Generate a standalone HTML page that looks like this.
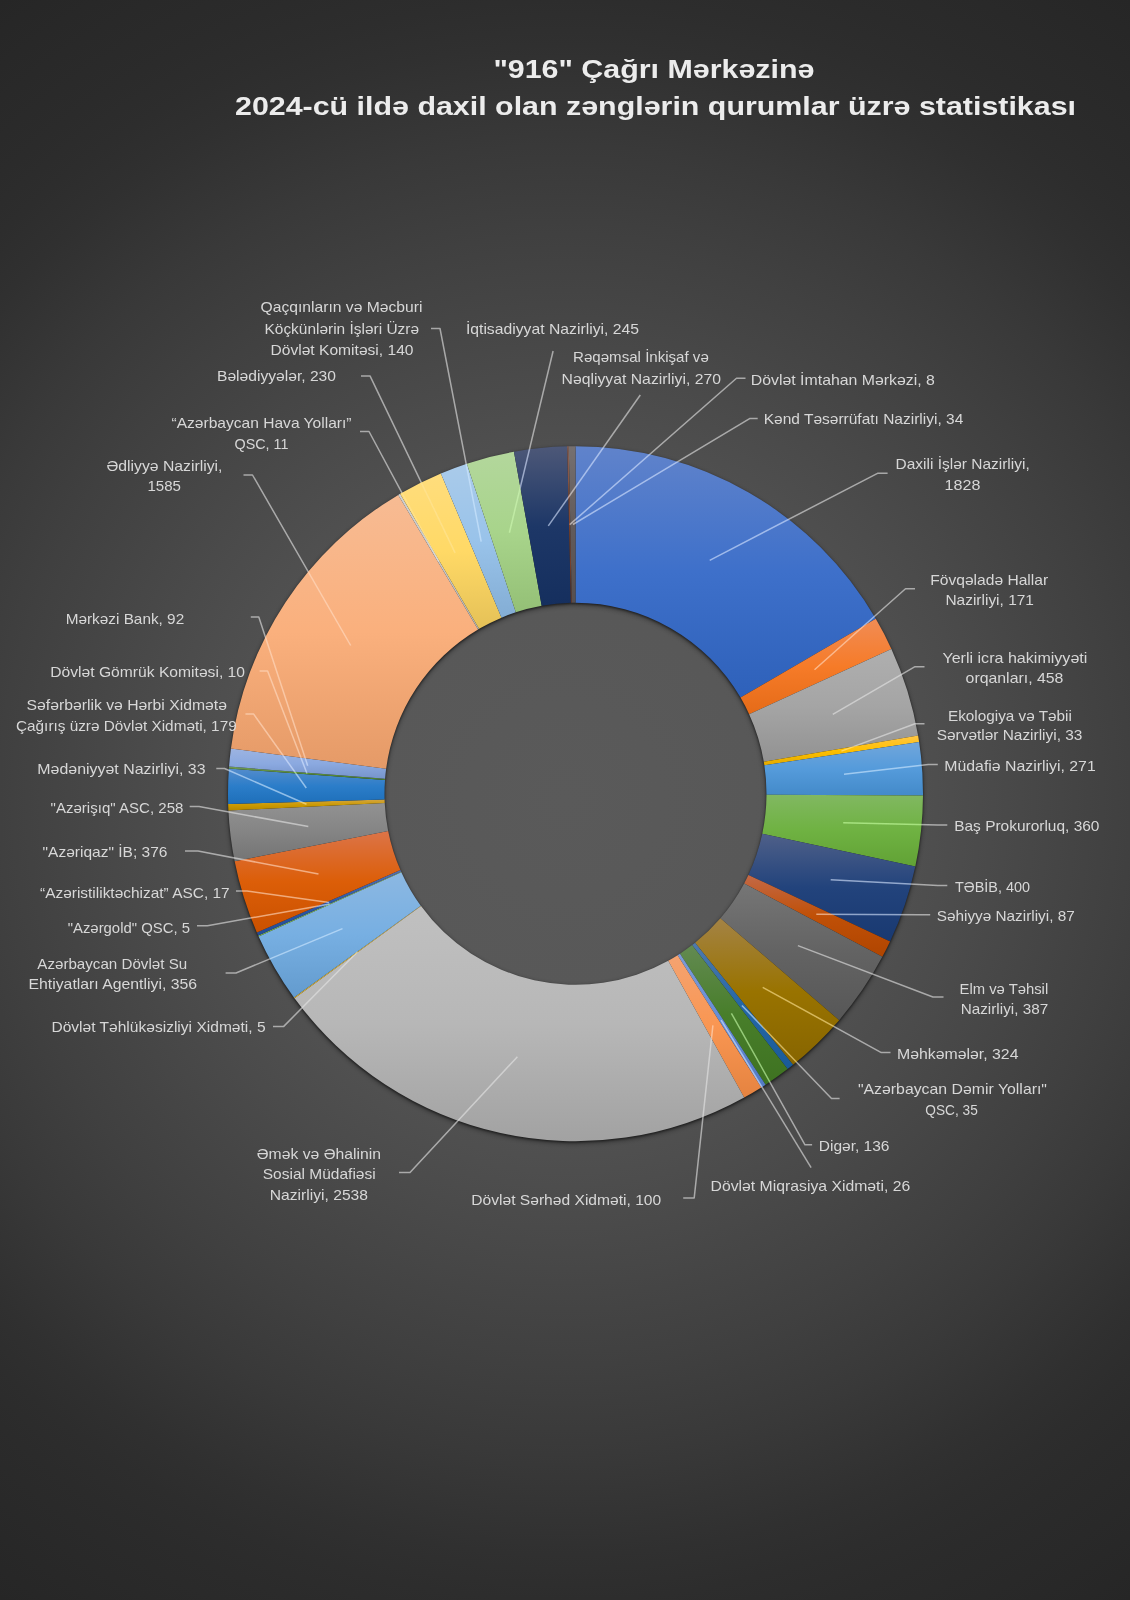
<!DOCTYPE html>
<html><head><meta charset="utf-8"><title>916</title>
<style>
html,body{margin:0;padding:0;background:#262626;}
body{width:1130px;height:1600px;overflow:hidden;font-family:"Liberation Sans",sans-serif;}
svg{display:block}
text{font-family:"Liberation Sans",sans-serif;}
</style></head><body>
<svg width="1130" height="1600" viewBox="0 0 1130 1600">
<defs>
<radialGradient id="bg" gradientUnits="userSpaceOnUse" cx="565" cy="800" r="980">
<stop offset="0.000" stop-color="#5a5a5a"/><stop offset="0.194" stop-color="#585858"/><stop offset="0.306" stop-color="#535353"/><stop offset="0.423" stop-color="#4b4b4b"/><stop offset="0.520" stop-color="#444444"/><stop offset="0.577" stop-color="#404040"/><stop offset="0.668" stop-color="#393939"/><stop offset="0.770" stop-color="#303030"/><stop offset="0.816" stop-color="#2d2d2d"/><stop offset="0.860" stop-color="#2b2b2b"/><stop offset="0.918" stop-color="#292929"/><stop offset="1.000" stop-color="#262626"/></radialGradient>
<filter id="sh" x="-5%" y="-5%" width="110%" height="110%" color-interpolation-filters="sRGB"><feGaussianBlur in="SourceAlpha" stdDeviation="2.6" result="b1"/><feOffset in="b1" dy="2" result="o1"/><feComponentTransfer in="o1" result="s1"><feFuncA type="linear" slope="0.45"/></feComponentTransfer><feGaussianBlur in="SourceAlpha" stdDeviation="0.8" result="b2"/><feOffset in="b2" dy="0.7" result="o2"/><feComponentTransfer in="o2" result="s2"><feFuncA type="linear" slope="0.5"/></feComponentTransfer><feMerge><feMergeNode in="s1"/><feMergeNode in="s2"/><feMergeNode in="SourceGraphic"/></feMerge></filter>
<linearGradient id="g0" x1="0" y1="0" x2="0" y2="1"><stop offset="0" stop-color="#6083cb"/><stop offset="0.5" stop-color="#3e70ca"/><stop offset="1" stop-color="#2e61ba"/></linearGradient>
<linearGradient id="g1" x1="0" y1="0" x2="0" y2="1"><stop offset="0" stop-color="#f18c55"/><stop offset="0.5" stop-color="#f67b28"/><stop offset="1" stop-color="#e56b18"/></linearGradient>
<linearGradient id="g2" x1="0" y1="0" x2="0" y2="1"><stop offset="0" stop-color="#afafaf"/><stop offset="0.5" stop-color="#a5a5a5"/><stop offset="1" stop-color="#929292"/></linearGradient>
<linearGradient id="g3" x1="0" y1="0" x2="0" y2="1"><stop offset="0" stop-color="#ffc646"/><stop offset="0.5" stop-color="#ffc000"/><stop offset="1" stop-color="#e2aa00"/></linearGradient>
<linearGradient id="g4" x1="0" y1="0" x2="0" y2="1"><stop offset="0" stop-color="#71a6db"/><stop offset="0.5" stop-color="#559bdb"/><stop offset="1" stop-color="#438ac9"/></linearGradient>
<linearGradient id="g5" x1="0" y1="0" x2="0" y2="1"><stop offset="0" stop-color="#81b861"/><stop offset="0.5" stop-color="#6fb242"/><stop offset="1" stop-color="#61a235"/></linearGradient>
<linearGradient id="g6" x1="0" y1="0" x2="0" y2="1"><stop offset="0" stop-color="#4f6089"/><stop offset="0.5" stop-color="#22437c"/><stop offset="1" stop-color="#193971"/></linearGradient>
<linearGradient id="g7" x1="0" y1="0" x2="0" y2="1"><stop offset="0" stop-color="#c36947"/><stop offset="0.5" stop-color="#c05007"/><stop offset="1" stop-color="#b04500"/></linearGradient>
<linearGradient id="g8" x1="0" y1="0" x2="0" y2="1"><stop offset="0" stop-color="#767676"/><stop offset="0.5" stop-color="#636363"/><stop offset="1" stop-color="#575757"/></linearGradient>
<linearGradient id="g9" x1="0" y1="0" x2="0" y2="1"><stop offset="0" stop-color="#a48345"/><stop offset="0.5" stop-color="#997300"/><stop offset="1" stop-color="#876500"/></linearGradient>
<linearGradient id="g10" x1="0" y1="0" x2="0" y2="1"><stop offset="0" stop-color="#507aac"/><stop offset="0.5" stop-color="#2467a6"/><stop offset="1" stop-color="#1a5b98"/></linearGradient>
<linearGradient id="g11" x1="0" y1="0" x2="0" y2="1"><stop offset="0" stop-color="#638a52"/><stop offset="0.5" stop-color="#487e2a"/><stop offset="1" stop-color="#3e7221"/></linearGradient>
<linearGradient id="g12" x1="0" y1="0" x2="0" y2="1"><stop offset="0" stop-color="#7c9bd6"/><stop offset="0.5" stop-color="#648dd5"/><stop offset="1" stop-color="#527ac3"/></linearGradient>
<linearGradient id="g13" x1="0" y1="0" x2="0" y2="1"><stop offset="0" stop-color="#f4a371"/><stop offset="0.5" stop-color="#f99652"/><stop offset="1" stop-color="#e58340"/></linearGradient>
<linearGradient id="g14" x1="0" y1="0" x2="0" y2="1"><stop offset="0" stop-color="#c0c0c0"/><stop offset="0.5" stop-color="#b7b7b7"/><stop offset="1" stop-color="#a2a2a2"/></linearGradient>
<linearGradient id="g15" x1="0" y1="0" x2="0" y2="1"><stop offset="0" stop-color="#ffd258"/><stop offset="0.5" stop-color="#ffcd33"/><stop offset="1" stop-color="#e5b72a"/></linearGradient>
<linearGradient id="g16" x1="0" y1="0" x2="0" y2="1"><stop offset="0" stop-color="#8cb8e2"/><stop offset="0.5" stop-color="#77afe2"/><stop offset="1" stop-color="#639bce"/></linearGradient>
<linearGradient id="g17" x1="0" y1="0" x2="0" y2="1"><stop offset="0" stop-color="#99c87b"/><stop offset="0.5" stop-color="#8bc564"/><stop offset="1" stop-color="#7ab452"/></linearGradient>
<linearGradient id="g18" x1="0" y1="0" x2="0" y2="1"><stop offset="0" stop-color="#556fad"/><stop offset="0.5" stop-color="#2d58a6"/><stop offset="1" stop-color="#224c98"/></linearGradient>
<linearGradient id="g19" x1="0" y1="0" x2="0" y2="1"><stop offset="0" stop-color="#dc7448"/><stop offset="0.5" stop-color="#dc5e08"/><stop offset="1" stop-color="#ca5100"/></linearGradient>
<linearGradient id="g20" x1="0" y1="0" x2="0" y2="1"><stop offset="0" stop-color="#929292"/><stop offset="0.5" stop-color="#848484"/><stop offset="1" stop-color="#747474"/></linearGradient>
<linearGradient id="g21" x1="0" y1="0" x2="0" y2="1"><stop offset="0" stop-color="#d3a545"/><stop offset="0.5" stop-color="#cc9a00"/><stop offset="1" stop-color="#b58800"/></linearGradient>
<linearGradient id="g22" x1="0" y1="0" x2="0" y2="1"><stop offset="0" stop-color="#548ccc"/><stop offset="0.5" stop-color="#2b7dc9"/><stop offset="1" stop-color="#1e6fb9"/></linearGradient>
<linearGradient id="g23" x1="0" y1="0" x2="0" y2="1"><stop offset="0" stop-color="#6f9858"/><stop offset="0.5" stop-color="#598e35"/><stop offset="1" stop-color="#4e812a"/></linearGradient>
<linearGradient id="g24" x1="0" y1="0" x2="0" y2="1"><stop offset="0" stop-color="#9db4e1"/><stop offset="0.5" stop-color="#8ba9e0"/><stop offset="1" stop-color="#7694cb"/></linearGradient>
<linearGradient id="g25" x1="0" y1="0" x2="0" y2="1"><stop offset="0" stop-color="#f7bb93"/><stop offset="0.5" stop-color="#fab07d"/><stop offset="1" stop-color="#e59a67"/></linearGradient>
<linearGradient id="g26" x1="0" y1="0" x2="0" y2="1"><stop offset="0" stop-color="#d0d0d0"/><stop offset="0.5" stop-color="#c9c9c9"/><stop offset="1" stop-color="#b2b2b2"/></linearGradient>
<linearGradient id="g27" x1="0" y1="0" x2="0" y2="1"><stop offset="0" stop-color="#ffdd7d"/><stop offset="0.5" stop-color="#ffd966"/><stop offset="1" stop-color="#e5c157"/></linearGradient>
<linearGradient id="g28" x1="0" y1="0" x2="0" y2="1"><stop offset="0" stop-color="#aacbea"/><stop offset="0.5" stop-color="#99c3ea"/><stop offset="1" stop-color="#83add4"/></linearGradient>
<linearGradient id="g29" x1="0" y1="0" x2="0" y2="1"><stop offset="0" stop-color="#b3d79c"/><stop offset="0.5" stop-color="#a8d48b"/><stop offset="1" stop-color="#94c076"/></linearGradient>
<linearGradient id="g30" x1="0" y1="0" x2="0" y2="1"><stop offset="0" stop-color="#4d5878"/><stop offset="0.5" stop-color="#1d3767"/><stop offset="1" stop-color="#152f5e"/></linearGradient>
<linearGradient id="g31" x1="0" y1="0" x2="0" y2="1"><stop offset="0" stop-color="#8a6155"/><stop offset="0.5" stop-color="#7e442e"/><stop offset="1" stop-color="#723a25"/></linearGradient>
<linearGradient id="g32" x1="0" y1="0" x2="0" y2="1"><stop offset="0" stop-color="#767070"/><stop offset="0.5" stop-color="#625b5b"/><stop offset="1" stop-color="#574f4f"/></linearGradient>
</defs>
<rect width="1130" height="1600" fill="url(#bg)"/>
<g filter="url(#sh)">
<path d="M575.50 446.25A347.5 347.5 0 0 1 875.78 618.86L740.55 697.62A191 191 0 0 0 575.50 602.75Z" fill="url(#g0)"/>
<path d="M875.78 618.86A347.5 347.5 0 0 1 891.39 648.95L749.13 714.16A191 191 0 0 0 740.55 697.62Z" fill="url(#g1)"/>
<path d="M891.39 648.95A347.5 347.5 0 0 1 918.09 735.51L763.80 761.74A191 191 0 0 0 749.13 714.16Z" fill="url(#g2)"/>
<path d="M918.09 735.51A347.5 347.5 0 0 1 919.12 741.98L764.37 765.29A191 191 0 0 0 763.80 761.74Z" fill="url(#g3)"/>
<path d="M919.12 741.98A347.5 347.5 0 0 1 923.00 795.54L766.50 794.73A191 191 0 0 0 764.37 765.29Z" fill="url(#g4)"/>
<path d="M923.00 795.54A347.5 347.5 0 0 1 915.32 866.40L762.28 833.68A191 191 0 0 0 766.50 794.73Z" fill="url(#g5)"/>
<path d="M915.32 866.40A347.5 347.5 0 0 1 890.06 941.43L748.39 874.92A191 191 0 0 0 762.28 833.68Z" fill="url(#g6)"/>
<path d="M890.06 941.43A347.5 347.5 0 0 1 882.34 956.86L744.15 883.40A191 191 0 0 0 748.39 874.92Z" fill="url(#g7)"/>
<path d="M882.34 956.86A347.5 347.5 0 0 1 839.15 1020.13L720.41 918.18A191 191 0 0 0 744.15 883.40Z" fill="url(#g8)"/>
<path d="M839.15 1020.13A347.5 347.5 0 0 1 793.03 1064.75L695.06 942.70A191 191 0 0 0 720.41 918.18Z" fill="url(#g9)"/>
<path d="M793.03 1064.75A347.5 347.5 0 0 1 787.57 1069.04L692.06 945.06A191 191 0 0 0 695.06 942.70Z" fill="url(#g10)"/>
<path d="M787.57 1069.04A347.5 347.5 0 0 1 765.58 1084.65L679.98 953.64A191 191 0 0 0 692.06 945.06Z" fill="url(#g11)"/>
<path d="M765.58 1084.65A347.5 347.5 0 0 1 761.24 1087.44L677.59 955.18A191 191 0 0 0 679.98 953.64Z" fill="url(#g12)"/>
<path d="M761.24 1087.44A347.5 347.5 0 0 1 744.19 1097.56L668.22 960.74A191 191 0 0 0 677.59 955.18Z" fill="url(#g13)"/>
<path d="M744.19 1097.56A347.5 347.5 0 0 1 294.51 998.20L421.05 906.12A191 191 0 0 0 668.22 960.74Z" fill="url(#g14)"/>
<path d="M294.51 998.20A347.5 347.5 0 0 1 293.92 997.40L420.73 905.68A191 191 0 0 0 421.05 906.12Z" fill="url(#g15)"/>
<path d="M293.92 997.40A347.5 347.5 0 0 1 258.62 936.38L401.33 872.15A191 191 0 0 0 420.73 905.68Z" fill="url(#g16)"/>
<path d="M258.62 936.38A347.5 347.5 0 0 1 258.22 935.48L401.11 871.65A191 191 0 0 0 401.33 872.15Z" fill="url(#g17)"/>
<path d="M258.22 935.48A347.5 347.5 0 0 1 256.86 932.39L400.36 869.95A191 191 0 0 0 401.11 871.65Z" fill="url(#g18)"/>
<path d="M256.86 932.39A347.5 347.5 0 0 1 234.64 861.35L388.15 830.91A191 191 0 0 0 400.36 869.95Z" fill="url(#g19)"/>
<path d="M234.64 861.35A347.5 347.5 0 0 1 228.41 810.60L384.72 803.01A191 191 0 0 0 388.15 830.91Z" fill="url(#g20)"/>
<path d="M228.41 810.60A347.5 347.5 0 0 1 228.15 804.06L384.58 799.42A191 191 0 0 0 384.72 803.01Z" fill="url(#g21)"/>
<path d="M228.15 804.06A347.5 347.5 0 0 1 228.91 768.58L385.00 779.92A191 191 0 0 0 384.58 799.42Z" fill="url(#g22)"/>
<path d="M228.91 768.58A347.5 347.5 0 0 1 229.06 766.60L385.08 778.83A191 191 0 0 0 385.00 779.92Z" fill="url(#g23)"/>
<path d="M229.06 766.60A347.5 347.5 0 0 1 230.96 748.46L386.13 768.86A191 191 0 0 0 385.08 778.83Z" fill="url(#g24)"/>
<path d="M230.96 748.46A347.5 347.5 0 0 1 398.21 494.88L478.06 629.48A191 191 0 0 0 386.13 768.86Z" fill="url(#g25)"/>
<path d="M398.21 494.88A347.5 347.5 0 0 1 400.09 493.77L479.09 628.87A191 191 0 0 0 478.06 629.48Z" fill="url(#g26)"/>
<path d="M400.09 493.77A347.5 347.5 0 0 1 440.87 473.39L501.50 617.67A191 191 0 0 0 479.09 628.87Z" fill="url(#g27)"/>
<path d="M440.87 473.39A347.5 347.5 0 0 1 466.87 463.66L515.79 612.32A191 191 0 0 0 501.50 617.67Z" fill="url(#g28)"/>
<path d="M466.87 463.66A347.5 347.5 0 0 1 513.94 451.75L541.67 605.77A191 191 0 0 0 515.79 612.32Z" fill="url(#g29)"/>
<path d="M513.94 451.75A347.5 347.5 0 0 1 567.17 446.35L570.92 602.80A191 191 0 0 0 541.67 605.77Z" fill="url(#g30)"/>
<path d="M567.17 446.35A347.5 347.5 0 0 1 568.76 446.32L571.79 602.79A191 191 0 0 0 570.92 602.80Z" fill="url(#g31)"/>
<path d="M568.76 446.32A347.5 347.5 0 0 1 575.50 446.25L575.50 602.75A191 191 0 0 0 571.79 602.79Z" fill="url(#g32)"/>
</g>
<g fill="none" stroke="#e4e4e4" stroke-opacity="0.62" stroke-width="1.5" stroke-linejoin="round" stroke-linecap="butt" style="mix-blend-mode:luminosity">
<path d="M709.7 560.3L877.5 473.3L887.6 473.3"/>
<path d="M814.5 669.7L905.5 588.7L915.0 588.7"/>
<path d="M832.8 714.4L915.0 666.7L924.5 666.7"/>
<path d="M841.4 751.1L915.0 723.8L924.5 723.8"/>
<path d="M844.0 774.3L928.3 764.5L937.8 764.5"/>
<path d="M843.2 822.7L937.8 825.0L947.3 825.0"/>
<path d="M830.7 879.7L937.8 885.4L947.3 885.4"/>
<path d="M816.3 914.2L920.7 914.7L930.2 914.7"/>
<path d="M797.9 945.6L932.9 997.0L943.5 997.0"/>
<path d="M762.7 987.3L881.3 1052.6L890.5 1052.6"/>
<path d="M741.9 1005.4L831.5 1098.4L839.6 1098.4"/>
<path d="M731.4 1013.3L805.0 1144.8L812.1 1144.8"/>
<path d="M721.1 1020.2L811.1 1167.6"/>
<path d="M712.9 1025.3L694.2 1197.9L683.2 1197.9"/>
<path d="M517.4 1056.7L410.0 1172.6L399.0 1172.6"/>
<path d="M357.6 951.8L283.5 1026.6L273.0 1026.6"/>
<path d="M342.5 928.6L236.0 973.0L225.6 973.0"/>
<path d="M329.8 903.9L207.4 925.8L197.0 925.8"/>
<path d="M329.1 902.4L247.0 891.0L236.0 891.0"/>
<path d="M318.5 874.1L198.0 851.0L185.0 851.0"/>
<path d="M308.3 826.6L199.0 806.5L189.7 806.5"/>
<path d="M306.5 804.3L224.5 768.5L216.3 768.5"/>
<path d="M306.3 788.0L253.5 713.9L245.5 713.9"/>
<path d="M307.0 773.5L267.6 670.9L259.6 670.9"/>
<path d="M307.7 765.7L258.8 616.9L250.8 616.9"/>
<path d="M350.7 645.5L252.5 475.0L243.5 475.0"/>
<path d="M438.9 561.7L369.0 431.5L360.0 431.5"/>
<path d="M455.1 552.9L370.0 375.9L361.0 375.9"/>
<path d="M481.2 541.6L440.0 328.5L431.0 328.5"/>
<path d="M509.4 532.7L553.1 351.0"/>
<path d="M548.3 525.9L640.3 395.0"/>
<path d="M569.7 524.6L736.5 378.3L745.5 378.3"/>
<path d="M572.9 524.5L749.6 418.6L757.7 418.6"/>
</g>
<g fill="#efefef" font-weight="bold" font-size="26.5" opacity="0.99">
<text x="493.4" y="77.8" textLength="321.1" lengthAdjust="spacingAndGlyphs">"916" Çağrı Mərkəzinə</text>
<text x="235" y="114.8" textLength="841" lengthAdjust="spacingAndGlyphs">2024-cü ildə daxil olan zənglərin qurumlar üzrə statistikası</text>
</g>
<g fill="#d9d9d9" font-size="15" opacity="0.99">
<text x="895.6" y="469.4" textLength="134.1" lengthAdjust="spacingAndGlyphs">Daxili İşlər Nazirliyi,</text>
<text x="944.5" y="489.9" textLength="35.9" lengthAdjust="spacingAndGlyphs">1828</text>
<text x="930.2" y="585.4" textLength="118.0" lengthAdjust="spacingAndGlyphs">Fövqəladə Hallar</text>
<text x="945.4" y="605.4" textLength="88.6" lengthAdjust="spacingAndGlyphs">Nazirliyi, 171</text>
<text x="942.4" y="663.4" textLength="145.0" lengthAdjust="spacingAndGlyphs">Yerli icra hakimiyyəti</text>
<text x="965.6" y="683.1" textLength="97.8" lengthAdjust="spacingAndGlyphs">orqanları, 458</text>
<text x="948.0" y="721.2" textLength="123.8" lengthAdjust="spacingAndGlyphs">Ekologiya və Təbii</text>
<text x="936.7" y="740.2" textLength="145.7" lengthAdjust="spacingAndGlyphs">Sərvətlər Nazirliyi, 33</text>
<text x="944.3" y="771.0" textLength="151.4" lengthAdjust="spacingAndGlyphs">Müdafiə Nazirliyi, 271</text>
<text x="954.2" y="831.4" textLength="145.3" lengthAdjust="spacingAndGlyphs">Baş Prokurorluq, 360</text>
<text x="955.0" y="892.0" textLength="75.0" lengthAdjust="spacingAndGlyphs">TƏBİB, 400</text>
<text x="936.7" y="920.5" textLength="138.1" lengthAdjust="spacingAndGlyphs">Səhiyyə Nazirliyi, 87</text>
<text x="959.5" y="994.0" textLength="88.7" lengthAdjust="spacingAndGlyphs">Elm və Təhsil</text>
<text x="960.7" y="1013.8" textLength="87.5" lengthAdjust="spacingAndGlyphs">Nazirliyi, 387</text>
<text x="897.0" y="1058.7" textLength="121.5" lengthAdjust="spacingAndGlyphs">Məhkəmələr, 324</text>
<text x="857.9" y="1094.4" textLength="189.1" lengthAdjust="spacingAndGlyphs">"Azərbaycan Dəmir Yolları"</text>
<text x="925.3" y="1115.4" textLength="52.5" lengthAdjust="spacingAndGlyphs">QSC, 35</text>
<text x="818.8" y="1151.4" textLength="70.7" lengthAdjust="spacingAndGlyphs">Digər, 136</text>
<text x="710.5" y="1190.7" textLength="199.8" lengthAdjust="spacingAndGlyphs">Dövlət Miqrasiya Xidməti, 26</text>
<text x="471.3" y="1205.1" textLength="189.9" lengthAdjust="spacingAndGlyphs">Dövlət Sərhəd Xidməti, 100</text>
<text x="256.8" y="1158.7" textLength="124.1" lengthAdjust="spacingAndGlyphs">Əmək və Əhalinin</text>
<text x="262.7" y="1178.7" textLength="113.0" lengthAdjust="spacingAndGlyphs">Sosial Müdafiəsi</text>
<text x="269.8" y="1200.0" textLength="98.2" lengthAdjust="spacingAndGlyphs">Nazirliyi, 2538</text>
<text x="51.4" y="1032.0" textLength="214.2" lengthAdjust="spacingAndGlyphs">Dövlət Təhlükəsizliyi Xidməti, 5</text>
<text x="37.3" y="969.2" textLength="149.9" lengthAdjust="spacingAndGlyphs">Azərbaycan Dövlət Su</text>
<text x="28.5" y="989.0" textLength="168.5" lengthAdjust="spacingAndGlyphs">Ehtiyatları Agentliyi, 356</text>
<text x="67.7" y="932.7" textLength="122.3" lengthAdjust="spacingAndGlyphs">"Azərgold" QSC, 5</text>
<text x="40.0" y="897.9" textLength="189.7" lengthAdjust="spacingAndGlyphs">“Azəristiliktəchizat” ASC, 17</text>
<text x="42.6" y="857.4" textLength="124.8" lengthAdjust="spacingAndGlyphs">"Azəriqaz" İB; 376</text>
<text x="50.6" y="813.4" textLength="132.8" lengthAdjust="spacingAndGlyphs">"Azərişıq" ASC, 258</text>
<text x="37.3" y="774.4" textLength="168.2" lengthAdjust="spacingAndGlyphs">Mədəniyyət Nazirliyi, 33</text>
<text x="26.6" y="710.2" textLength="200.4" lengthAdjust="spacingAndGlyphs">Səfərbərlik və Hərbi Xidmətə</text>
<text x="16.0" y="730.8" textLength="220.7" lengthAdjust="spacingAndGlyphs">Çağırış üzrə Dövlət Xidməti, 179</text>
<text x="50.2" y="677.2" textLength="194.8" lengthAdjust="spacingAndGlyphs">Dövlət Gömrük Komitəsi, 10</text>
<text x="65.7" y="623.6" textLength="118.5" lengthAdjust="spacingAndGlyphs">Mərkəzi Bank, 92</text>
<text x="106.5" y="471.4" textLength="116.0" lengthAdjust="spacingAndGlyphs">Ədliyyə Nazirliyi,</text>
<text x="147.5" y="491.4" textLength="33.5" lengthAdjust="spacingAndGlyphs">1585</text>
<text x="171.5" y="427.9" textLength="180.0" lengthAdjust="spacingAndGlyphs">“Azərbaycan Hava Yolları”</text>
<text x="234.5" y="448.9" textLength="54.0" lengthAdjust="spacingAndGlyphs">QSC, 11</text>
<text x="217.0" y="380.9" textLength="119.0" lengthAdjust="spacingAndGlyphs">Bələdiyyələr, 230</text>
<text x="260.5" y="311.9" textLength="162.0" lengthAdjust="spacingAndGlyphs">Qaçqınların və Məcburi</text>
<text x="264.5" y="334.4" textLength="154.5" lengthAdjust="spacingAndGlyphs">Köçkünlərin İşləri Üzrə</text>
<text x="270.5" y="354.9" textLength="143.0" lengthAdjust="spacingAndGlyphs">Dövlət Komitəsi, 140</text>
<text x="465.9" y="333.8" textLength="173.1" lengthAdjust="spacingAndGlyphs">İqtisadiyyat Nazirliyi, 245</text>
<text x="573.1" y="361.6" textLength="135.7" lengthAdjust="spacingAndGlyphs">Rəqəmsal İnkişaf və</text>
<text x="561.5" y="383.6" textLength="159.5" lengthAdjust="spacingAndGlyphs">Nəqliyyat Nazirliyi, 270</text>
<text x="750.8" y="385.4" textLength="184.1" lengthAdjust="spacingAndGlyphs">Dövlət İmtahan Mərkəzi, 8</text>
<text x="763.7" y="424.3" textLength="199.6" lengthAdjust="spacingAndGlyphs">Kənd Təsərrüfatı Nazirliyi, 34</text>
</g>
</svg>
</body></html>
